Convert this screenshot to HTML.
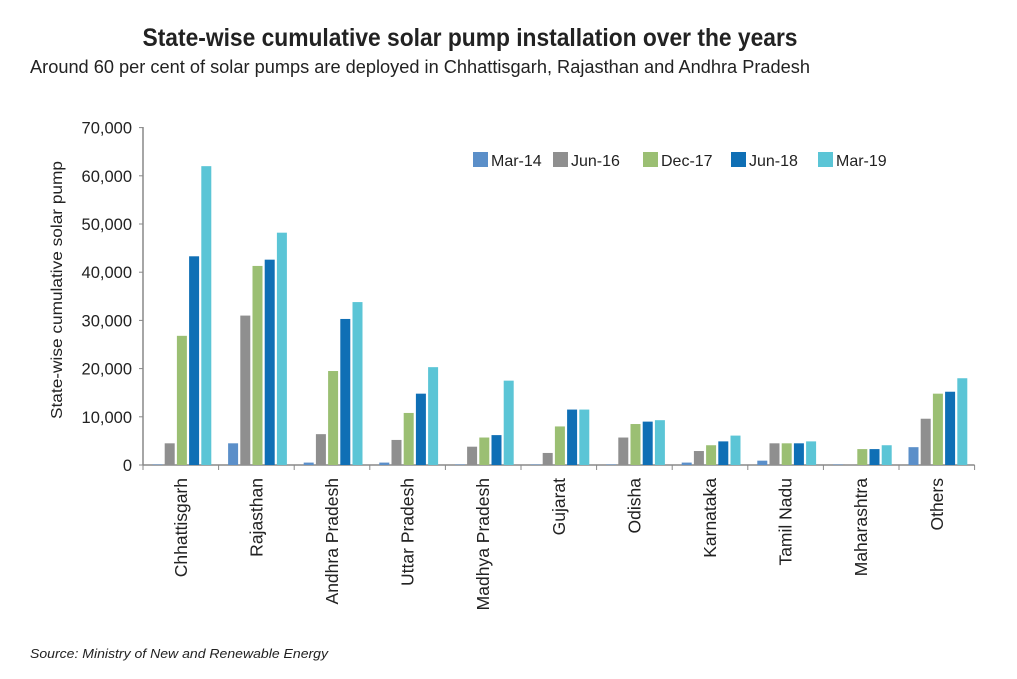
<!DOCTYPE html>
<html><head><meta charset="utf-8"><style>
body{margin:0;background:#fff;}
svg text{font-family:"Liberation Sans",sans-serif;fill:#222;}
</style></head><body>
<svg width="1017" height="674" xmlns="http://www.w3.org/2000/svg">
<text x="470" y="46" text-anchor="middle" font-size="25" font-weight="bold" textLength="655" lengthAdjust="spacingAndGlyphs">State-wise cumulative solar pump installation over the years</text>
<text x="30" y="73" font-size="18" textLength="780" lengthAdjust="spacingAndGlyphs">Around 60 per cent of solar pumps are deployed in Chhattisgarh, Rajasthan and Andhra Pradesh</text>
<text transform="translate(62,290) rotate(-90)" text-anchor="middle" font-size="16" textLength="258" lengthAdjust="spacingAndGlyphs">State-wise cumulative solar pump</text>
<g font-size="16">
<rect x="473" y="152" width="15" height="15" fill="#5b8fc9"/><text x="491" y="166">Mar-14</text>
<rect x="553" y="152" width="15" height="15" fill="#8f8f8f"/><text x="571" y="166">Jun-16</text>
<rect x="643" y="152" width="15" height="15" fill="#9bbf73"/><text x="661" y="166">Dec-17</text>
<rect x="731" y="152" width="15" height="15" fill="#0f6fb5"/><text x="749" y="166">Jun-18</text>
<rect x="818" y="152" width="15" height="15" fill="#5bc5d6"/><text x="836" y="166">Mar-19</text>
</g>
<text x="30" y="658" font-size="13" font-style="italic" fill="#333" textLength="298" lengthAdjust="spacingAndGlyphs">Source: Ministry of New and Renewable Energy</text>
</svg>
<script>
var ns="http://www.w3.org/2000/svg",svg=document.querySelector('svg');
function el(t,a,txt){var e=document.createElementNS(ns,t);for(var k in a)e.setAttribute(k,a[k]);if(txt)e.textContent=txt;svg.appendChild(e);return e;}
var base=465,s=48.2/10000,x0=143,gw=75.6;
el('line',{x1:x0,y1:127,x2:x0,y2:base,stroke:'#888','stroke-width':1.5});
el('line',{x1:x0,y1:base,x2:x0+11*gw,y2:base,stroke:'#888','stroke-width':1.5});
for(var i=0;i<=7;i++){var y=base-i*10000*s;
el('line',{x1:x0-4,y1:y,x2:x0,y2:y,stroke:'#888'});
el('text',{x:132,y:y+6,'font-size':16.5,'text-anchor':'end'},i==0?'0':(i*10)+',000');}
var cols=['#5b8fc9','#8f8f8f','#9bbf73','#0f6fb5','#5bc5d6'];
var d=[['Chhattisgarh',[0.1,4.5,26.8,43.3,62]],['Rajasthan',[4.5,31,41.3,42.6,48.2]],['Andhra Pradesh',[0.5,6.4,19.5,30.3,33.8]],['Uttar Pradesh',[0.5,5.2,10.8,14.8,20.3]],['Madhya Pradesh',[0.1,3.8,5.7,6.2,17.5]],['Gujarat',[0.1,2.5,8,11.5,11.5]],['Odisha',[0.1,5.7,8.5,9,9.3]],['Karnataka',[0.5,2.9,4.1,4.9,6.1]],['Tamil Nadu',[0.9,4.5,4.5,4.5,4.9]],['Maharashtra',[0.1,0.1,3.3,3.3,4.1]],['Others',[3.7,9.6,14.8,15.2,18]]];
d.forEach(function(g,i){var gx=x0+i*gw;
el('line',{x1:gx,y1:base,x2:gx,y2:base+5,stroke:'#888'});
g[1].forEach(function(v,j){var h=v*1000*s;el('rect',{x:gx+9.5+j*12.2,y:base-h,width:10,height:h,fill:cols[j]});});
var cx=gx+gw/2;el('text',{transform:'translate('+(cx+6)+',478) rotate(-90)','text-anchor':'end','font-size':17.5},g[0]);});
el('line',{x1:x0+11*gw,y1:base,x2:x0+11*gw,y2:base+5,stroke:'#888'});
</script>
</body></html>
